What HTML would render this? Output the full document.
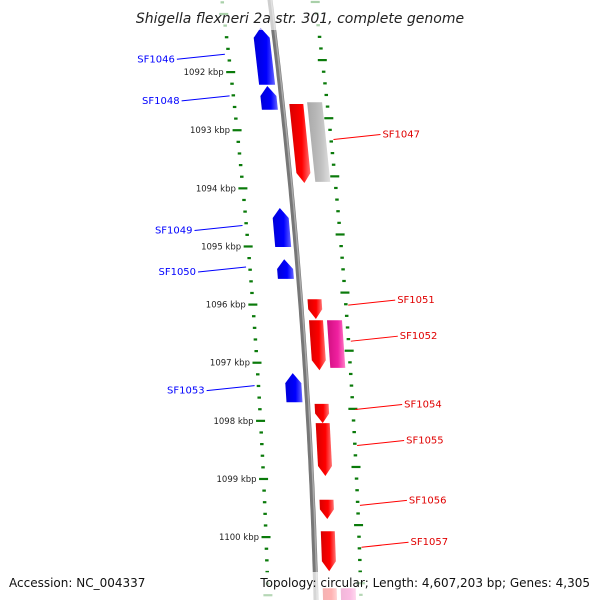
<!DOCTYPE html>
<html><head><meta charset="utf-8"><style>
html,body{margin:0;padding:0;background:#fff}
svg{display:block;font-family:"DejaVu Sans","Liberation Sans",sans-serif}
</style></head><body>
<svg id="map" width="600" height="600" viewBox="0 0 600 600" xmlns="http://www.w3.org/2000/svg">
<defs>
<linearGradient id="gBlue" x1="0" x2="1" y1="0" y2="0"><stop offset="0" stop-color="#0000d8"/><stop offset="0.6" stop-color="#0000ff"/><stop offset="1" stop-color="#6666ff"/></linearGradient>
<linearGradient id="gRed" x1="0" x2="1" y1="0" y2="0"><stop offset="0" stop-color="#d80000"/><stop offset="0.6" stop-color="#ff0000"/><stop offset="1" stop-color="#ff7777"/></linearGradient>
<linearGradient id="gGrey" x1="0" x2="1" y1="0" y2="0"><stop offset="0" stop-color="#a8a8a8"/><stop offset="0.6" stop-color="#c0c0c0"/><stop offset="1" stop-color="#e0e0e0"/></linearGradient>
<linearGradient id="gPink" x1="0" x2="1" y1="0" y2="0"><stop offset="0" stop-color="#d01080"/><stop offset="0.6" stop-color="#f020a0"/><stop offset="1" stop-color="#ff80c8"/></linearGradient>
</defs>
<g id="ticks"></g>
<g id="backbone"></g>
<g id="genes"></g>
<g id="labels"></g>
<rect x="0" y="0" width="600" height="30" fill="#fff" fill-opacity="0.65"/>
<text x="300" y="23" text-anchor="middle" font-size="14" font-style="italic" fill="#222">Shigella flexneri 2a str. 301, complete genome</text>
<rect x="0" y="572" width="600" height="28" fill="#fff" fill-opacity="0.7"/>
<text x="9" y="587" font-size="12" fill="#111">Accession: NC_004337</text>
<text x="590" y="587" text-anchor="end" font-size="12" fill="#111">Topology: circular; Length: 4,607,203 bp; Genes: 4,305</text>
</svg>
<script>
const geneNames = ["SF1046","SF1048","SF1047","","SF1049","SF1050","SF1051","SF1052","","SF1053","SF1054","SF1055","SF1056","SF1057","",""];
const geneStart = [1091.24,1092.24,1092.55,1092.52,1094.34,1095.22,1095.91,1096.27,1096.27,1097.18,1097.71,1098.04,1099.36,1099.90,1100.88,1100.88];
const geneEnd   = [1092.22,1092.65,1093.91,1093.89,1095.01,1095.56,1096.25,1097.13,1097.09,1097.68,1098.04,1098.95,1099.69,1100.59,1101.30,1101.30];
const geneStrand = [-1,-1,1,0,-1,-1,1,1,0,-1,1,1,1,1,1,0];
const geneColor = ["blue","blue","red","grey","blue","blue","red","red","pink","blue","red","red","red","red","red","pink"];
const tickLabels = ["1091 kbp","1092 kbp","1093 kbp","1094 kbp","1095 kbp","1096 kbp","1097 kbp","1098 kbp","1099 kbp","1100 kbp","1101 kbp"];
const tickValues = [1091,1092,1093,1094,1095,1096,1097,1098,1099,1100,1101];

const NS="http://www.w3.org/2000/svg";
function yOf(k){return 72+(k-1092)*58.125;}
function xb(y){return 270+0.1267*y-0.0000833*y*y;}
function mk(tag,attrs,parent){const e=document.createElementNS(NS,tag);for(const a in attrs)e.setAttribute(a,attrs[a]);parent.appendChild(e);return e;}

// backbone
const bb=document.getElementById('backbone');
let pts=[];for(let y=-5;y<=605;y+=5)pts.push(xb(y).toFixed(1)+","+y);
const bl=mk('polyline',{points:pts.join(' '),fill:'none',stroke:'#777','stroke-width':5},bb);


const bl2=mk('polyline',{points:pts.map(p=>{const[a,b]=p.split(',');return (+a+1.2)+","+b;}).join(' '),fill:'none',stroke:'#aaa','stroke-width':1.5},bb);



// ticks
const tg=document.getElementById('ticks');
for(let i=0;i<=60;i++){
  const k=1090.8+i*0.2;const major=Math.abs(k-Math.round(k))<0.01;
  const y=yOf(k);
  [[-48,0],[45,-12]].forEach(([off,dy])=>{
    const yy=y+dy;if(yy<-5||yy>605)return;
    const w=major?9:3.5;const cx=xb(yy)+off;
    const t=mk('rect',{x:cx-w/2,y:yy-1,width:w,height:2.2,fill:'#0a7a0a'},tg);
    
    
  });
}
tickValues.forEach((v,i)=>{
  const y=yOf(v);if(y<40||y>570)return;
  const t=mk('text',{x:xb(y)-55,y:y+3,'text-anchor':'end','font-size':8.5,fill:'#222'},tg);
  t.textContent=tickLabels[i];
  
  
});

// genes
const gg=document.getElementById('genes');
const fills={blue:'url(#gBlue)',red:'url(#gRed)',grey:'url(#gGrey)',pink:'url(#gPink)'};
const lblG=document.getElementById('labels');
geneStart.forEach((s,i)=>{
  const y1=yOf(s),y2=yOf(geneEnd[i]);
  let o1,o2;
  if(geneStrand[i]<0){o1=-21;o2=-5;}else if(geneStrand[i]>0){o1=7;o2=21;}else{o1=25;o2=40;}
  const head=Math.min(10,(y2-y1)*0.5);
  let p=[];
  const P=(y,o)=>(xb(y)+o).toFixed(1)+","+y.toFixed(1);
  if(geneStrand[i]<0){
    p=[P(y1,(o1+o2)/2),P(y1+head,o2),P(y2,o2),P(y2,o1),P(y1+head,o1)];
  }else if(geneStrand[i]>0){
    p=[P(y1,o1),P(y1,o2),P(y2-head,o2),P(y2,(o1+o2)/2),P(y2-head,o1)];
  }else{
    p=[P(y1,o1),P(y1,o2),P(y2,o2),P(y2,o1)];
  }
  const g=mk('polygon',{points:p.join(' '),fill:fills[geneColor[i]]},gg);
  
  
  if(geneNames[i]){
    const ym=(y1+y2)/2;
    if(geneStrand[i]<0){
      const lx=xb(ym)-52, ly=ym-2;
      const ln=mk('line',{x1:lx,y1:ly,x2:lx-48,y2:ly+5,stroke:'#0000ff','stroke-width':1},lblG);
      
      
      const t=mk('text',{x:lx-50,y:ly+8,'text-anchor':'end','font-size':10,fill:'#0000ff'},lblG);
      t.textContent=geneNames[i];
      
      
    }else{
      const lx=xb(ym)+47, ly=ym-4;
      const ln=mk('line',{x1:lx,y1:ly,x2:lx+47,y2:ly-5,stroke:'#ff0000','stroke-width':1},lblG);
      
      
      const t=mk('text',{x:lx+49,y:ly-2,'font-size':10,fill:'#e00000'},lblG);
      t.textContent=geneNames[i];
      
      
    }
  }
});
</script>
</body></html>
